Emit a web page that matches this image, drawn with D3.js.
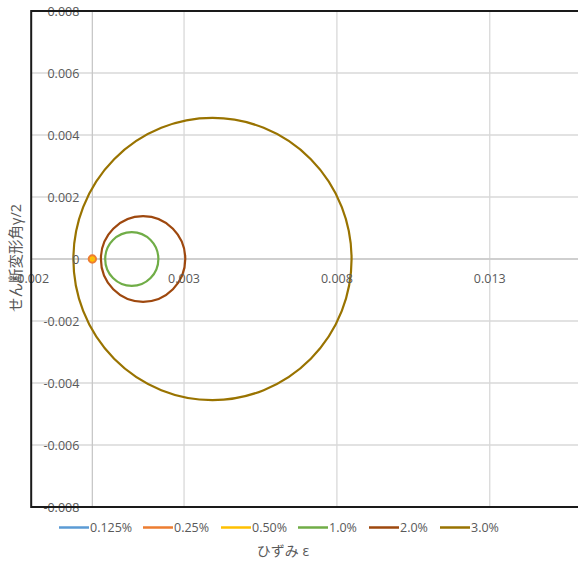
<!DOCTYPE html>
<html>
<head>
<meta charset="utf-8">
<script src="https://cdn.jsdelivr.net/npm/d3@7"></script>
<style>
  html, body { margin: 0; padding: 0; background: #fff; overflow: hidden; }
  svg { display: block; }
  text { font-family: "Open Sans", "Noto Sans", "Noto Sans CJK JP", sans-serif; fill: #595959; }
</style>
</head>
<body>
<svg id="chart" width="578" height="563"></svg>
<script>
// ---- data ----
const seriesNames = ["0.125%", "0.25%", "0.50%", "1.0%", "2.0%", "3.0%"];
const centers = [0.0, 0.0, 0.0, 0.00129, 0.00166, 0.00393];   // circle centre (strain)
const radii   = [0.00002, 0.00011, 0.00005, 0.00087, 0.00138, 0.00455]; // circle radius
const colors  = ["#5B9BD5", "#ED7D31", "#FFC000", "#70AD47", "#9E480E", "#997300"];
const xTicks = [-0.002, 0.003, 0.008, 0.013];
const yTicks = [0.008, 0.006, 0.004, 0.002, 0, -0.002, -0.004, -0.006, -0.008];
const xTitle = "ひずみ ε";
const yTitle = "せん断変形角γ/2";

const svg = d3.select("#chart");
const x = d3.scaleLinear().domain([-0.002, 0.018]).range([31.2, 642.6]);
const y = d3.scaleLinear().domain([-0.008, 0.008]).range([507, 11]);
const fmt = v => v === 0 ? "0" : d3.format(".3f")(v).replace("−", "-");

const plot = svg.append("g");

// gridlines
plot.selectAll("line.vg").data(xTicks).join("line")
  .attr("x1", d => x(d)).attr("x2", d => x(d))
  .attr("y1", y(0.008)).attr("y2", y(-0.008))
  .attr("stroke", "#d9d9d9").attr("stroke-width", 1.3);
plot.selectAll("line.hg").data(yTicks).join("line")
  .attr("x1", x(-0.002)).attr("x2", x(0.018))
  .attr("y1", d => y(d)).attr("y2", d => y(d))
  .attr("stroke", "#d9d9d9").attr("stroke-width", 1.3);

// axis lines crossing at zero
plot.append("line").attr("x1", x(0)).attr("x2", x(0)).attr("y1", y(0.008)).attr("y2", y(-0.008))
  .attr("stroke", "#c8c8c8").attr("stroke-width", 1.3);
plot.append("line").attr("x1", x(-0.002)).attr("x2", x(0.018)).attr("y1", y(0)).attr("y2", y(0))
  .attr("stroke", "#c8c8c8").attr("stroke-width", 1.3);

// tick labels
svg.selectAll("text.yt").data(yTicks).join("text")
  .attr("x", x(0) - 13).attr("y", d => y(d))
  .attr("text-anchor", "end").attr("dominant-baseline", "central")
  .attr("font-size", 12.5).text(fmt);
svg.selectAll("text.xt").data(xTicks).join("text")
  .attr("x", d => x(d)).attr("y", y(0) + 19)
  .attr("text-anchor", "middle").attr("dominant-baseline", "central")
  .attr("font-size", 12.5).text(fmt);

// circles (Mohr's circles)
const idx = d3.range(seriesNames.length);
plot.selectAll("ellipse.c").data(idx).join("ellipse")
  .attr("cx", i => x(centers[i]))
  .attr("cy", y(0))
  .attr("rx", i => x(centers[i] + radii[i]) - x(centers[i]))
  .attr("ry", i => y(0) - y(radii[i]))
  .attr("fill", "none")
  .attr("stroke", i => colors[i])
  .attr("stroke-width", i => i === 1 ? 2.6 : 2.2);

// plot border
svg.append("rect")
  .attr("x", x(-0.002)).attr("y", y(0.008))
  .attr("width", x(0.018) - x(-0.002) + 20).attr("height", y(-0.008) - y(0.008))
  .attr("fill", "none").attr("stroke", "#1a1a1a").attr("stroke-width", 2);

// legend
const legendX = [59, 143, 221, 298, 369, 440];
const lg = svg.selectAll("g.lg").data(idx).join("g")
  .attr("transform", i => `translate(${legendX[i]},527.5)`);
lg.append("line").attr("x1", 0).attr("x2", 30).attr("y1", 0).attr("y2", 0)
  .attr("stroke", i => colors[i]).attr("stroke-width", 2.5);
lg.append("text").attr("x", 31).attr("y", 0).attr("dominant-baseline", "central")
  .attr("font-size", 12.5).text(i => seriesNames[i]);

// axis titles
svg.append("text").attr("x", 283).attr("y", 550)
  .attr("text-anchor", "middle").attr("dominant-baseline", "central")
  .attr("font-size", 14).attr("font-family", "'Noto Sans CJK JP', sans-serif")
  .text(xTitle);
svg.append("text")
  .attr("transform", `translate(15,258) rotate(-90)`)
  .attr("text-anchor", "middle").attr("dominant-baseline", "central")
  .attr("font-size", 14.5).attr("font-family", "'Noto Sans CJK JP', sans-serif")
  .text(yTitle);
</script>
</body>
</html>
